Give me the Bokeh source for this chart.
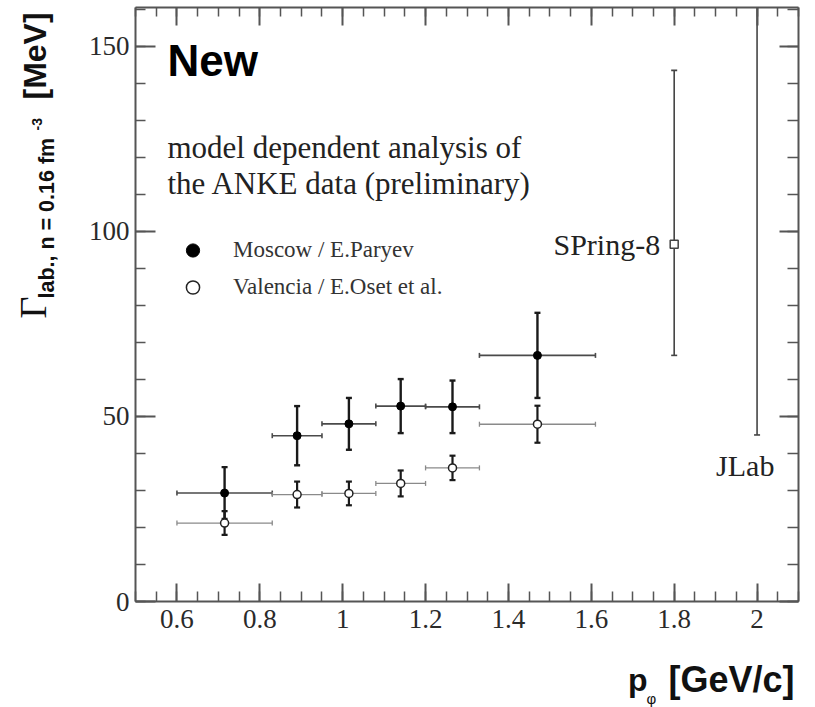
import numpy as np
from bokeh.plotting import figure
from bokeh.layouts import row, column
from bokeh.models import (ColumnDataSource, Whisker, TeeHead, LinearAxis, FixedTicker,
                          Label, Legend, LegendItem, Range1d)
from bokeh.core.properties import value
from bokeh.embed import file_html
from bokeh.resources import INLINE

# ---------------- data ----------------
p_center = [0.715, 0.89, 1.015, 1.14, 1.265, 1.47]
p_bin_lo = [0.60, 0.83, 0.95, 1.08, 1.20, 1.33]
p_bin_hi = [0.83, 0.95, 1.08, 1.20, 1.33, 1.61]

moscow_gamma = [29.3, 44.8, 48.0, 52.8, 52.6, 66.5]
moscow_err = [7.0, 8.0, 7.0, 7.3, 7.1, 11.5]

valencia_gamma = [21.2, 28.9, 29.2, 31.9, 36.1, 47.9]
valencia_err = [3.2, 3.5, 3.2, 3.5, 3.3, 5.0]

spring8_p = [1.8]
spring8_gamma = [96.5]
spring8_lo = [66.5]
spring8_hi = [143.5]

jlab_p = [2.0]
jlab_lo = [45.0]
jlab_hi = [250.0]

x_tick_vals = [0.6, 0.8, 1.0, 1.2, 1.4, 1.6, 1.8, 2.0]
x_tick_labels = ["0.6", "0.8", "1", "1.2", "1.4", "1.6", "1.8", "2"]
y_tick_vals = [0, 50, 100, 150]
y_tick_labels = ["0", "50", "100", "150"]
x_minor = [round(0.5 + 0.05 * i, 2) for i in range(33)]
y_minor = list(range(0, 161, 10))

# ---------------- sources ----------------
moscow = ColumnDataSource(dict(
    p=p_center, g=moscow_gamma,
    g_lo=[g - e for g, e in zip(moscow_gamma, moscow_err)],
    g_hi=[g + e for g, e in zip(moscow_gamma, moscow_err)],
    p_lo=p_bin_lo, p_hi=p_bin_hi))
valencia = ColumnDataSource(dict(
    p=p_center, g=valencia_gamma,
    g_lo=[g - e for g, e in zip(valencia_gamma, valencia_err)],
    g_hi=[g + e for g, e in zip(valencia_gamma, valencia_err)],
    p_lo=p_bin_lo, p_hi=p_bin_hi))
spring = ColumnDataSource(dict(p=spring8_p, g=spring8_gamma, g_lo=spring8_lo, g_hi=spring8_hi))
jlab = ColumnDataSource(dict(p=jlab_p, g_lo=jlab_lo, g_hi=jlab_hi))

# ---------------- layout sizes (page pixels) ----------------
W, H = 815, 707
LEFT_W = 65          # strip holding the rotated y title
MAIN_H = 650         # main plot height; below it a strip for the x title
BELOW_H = H - MAIN_H

# ---------------- main figure ----------------
p = figure(width=W - LEFT_W, height=MAIN_H, x_range=Range1d(0.5, 2.1),
           y_range=Range1d(0, 160.5),
           output_backend="svg", toolbar_location=None,
           min_border_left=135 - LEFT_W, min_border_right=W - 798,
           min_border_top=7, min_border_bottom=MAIN_H - 601)
p.grid.visible = False
p.outline_line_color = None
p.background_fill_color = "white"
p.border_fill_color = "white"

AX_COL = "#555555"
TICK_FONT = "Liberation Serif"


def style_axis(ax, show_labels, maj_in, min_in):
    ax.axis_line_color = AX_COL
    ax.axis_line_width = 2
    ax.major_tick_line_color = AX_COL
    ax.minor_tick_line_color = AX_COL
    ax.major_tick_line_width = 2
    ax.minor_tick_line_width = 1.5
    ax.major_tick_in = maj_in
    ax.major_tick_out = 0
    ax.minor_tick_in = min_in
    ax.minor_tick_out = 0
    if show_labels:
        ax.major_label_text_font = TICK_FONT
        ax.major_label_text_font_size = "27px"
        ax.major_label_text_color = "#2a2a2a"
    else:
        ax.major_label_text_font_size = "1px"
        ax.major_label_text_color = None
        ax.major_label_standoff = 0


xb = p.xaxis[0]
xb.ticker = FixedTicker(ticks=x_tick_vals, minor_ticks=x_minor)
xb.major_label_overrides = dict(zip(x_tick_vals, x_tick_labels))
style_axis(xb, True, 18, 10)
xb.major_label_standoff = 8

yl = p.yaxis[0]
yl.ticker = FixedTicker(ticks=y_tick_vals, minor_ticks=y_minor)
yl.major_label_overrides = dict(zip(y_tick_vals, y_tick_labels))
style_axis(yl, True, 20, 10)
yl.major_label_standoff = 6

xt = LinearAxis(ticker=FixedTicker(ticks=x_tick_vals, minor_ticks=x_minor))
xt.major_label_overrides = {v: "" for v in x_tick_vals}
style_axis(xt, False, 18, 9)
p.add_layout(xt, "above")

yr = LinearAxis(ticker=FixedTicker(ticks=y_tick_vals, minor_ticks=y_minor))
yr.major_label_overrides = {v: "" for v in y_tick_vals}
style_axis(yr, False, 19, 11)
p.add_layout(yr, "right")

# ---------------- error bars ----------------
def whisk(src, base, lo, hi, dim, color, width, cap):
    w = Whisker(source=src, base=base, lower=lo, upper=hi, dimension=dim,
                line_color=color, line_width=width,
                upper_head=TeeHead(size=cap, line_color=color, line_width=width),
                lower_head=TeeHead(size=cap, line_color=color, line_width=width))
    p.add_layout(w)
    return w

whisk(moscow, "g", "p_lo", "p_hi", "width", "#4a4a4a", 1.6, 5)
whisk(moscow, "p", "g_lo", "g_hi", "height", "#1a1a1a", 2.4, 6)
whisk(valencia, "g", "p_lo", "p_hi", "width", "#8a8a8a", 1.3, 5)
whisk(valencia, "p", "g_lo", "g_hi", "height", "#1a1a1a", 2.2, 6)
whisk(spring, "p", "g_lo", "g_hi", "height", "#444444", 1.6, 6)
whisk(jlab, "p", "g_lo", "g_hi", "height", "#444444", 1.6, 6)

# ---------------- markers ----------------
r_m = p.scatter("p", "g", source=moscow, marker="circle", size=8,
                fill_color="black", line_color="black", line_width=1)
r_v = p.scatter("p", "g", source=valencia, marker="circle", size=8,
                fill_color="white", line_color="#222222", line_width=1.5)
p.scatter("p", "g", source=spring, marker="square", size=8,
          fill_color="white", line_color="#444444", line_width=1.5)

# ---------------- legend ----------------
legend = Legend(items=[LegendItem(label="Moscow / E.Paryev", renderers=[r_m]),
                       LegendItem(label="Valencia / E.Oset et al.", renderers=[r_v])],
                location=(41, 297), border_line_color=None, background_fill_alpha=0,
                glyph_width=33, glyph_height=34, label_standoff=24, padding=10, spacing=3,
                label_text_font="Liberation Serif", label_text_font_size="23px",
                label_text_color="#333333", margin=0)
p.add_layout(legend)

# ---------------- text annotations inside the frame ----------------
SERIF = "Liberation Serif"
SANS = "Liberation Sans"


def lab(text, x, y, font, size, style="normal", color="#111111"):
    p.add_layout(Label(x=x, y=y, x_units="screen", y_units="screen", text=text,
                       text_font=font, text_font_size=size, text_font_style=style,
                       text_color=color, text_align="left", text_baseline="alphabetic"))

lab("New", 32, 541, SANS, "44px", "bold", "#000000")
lab("model dependent analysis of", 32, 454, SERIF, "31px", color="#222222")
lab("the ANKE data (preliminary)", 32, 418, SERIF, "31px", color="#222222")

p.add_layout(Label(x=spring8_p[0], y=spring8_gamma[0], x_offset=-14, text="SPring-8",
                   text_font=SERIF, text_font_size="30px", text_color="#222222",
                   text_align="right", text_baseline="middle"))
p.add_layout(Label(x=jlab_p[0], y=jlab_lo[0], x_offset=-41, y_offset=-31, text="JLab",
                   text_font=SERIF, text_font_size="30px", text_color="#222222",
                   text_align="left", text_baseline="middle"))

# ---------------- y title strip (left) ----------------
left = figure(width=LEFT_W, height=H, x_range=Range1d(0, LEFT_W), y_range=Range1d(0, H),
              output_backend="svg", toolbar_location=None,
              x_axis_location=None, y_axis_location=None, min_border=0)
left.grid.visible = False
left.outline_line_color = None
left.border_fill_color = "white"

ang = np.pi / 2
ytitle_parts = ["\u0393", "lab., n = 0.16 fm", "-3", "[MeV]"]
ytitle_x = [32, 46, 36, 34]
ytitle_top = [318, 298, 130, 99]
ytitle_font = [SERIF, SANS, SANS, SANS]
ytitle_size = ["38px", "21.5px", "14px", "32px"]
ytitle_style = ["normal", "bold", "bold", "bold"]
for t, x, y, f, s, st in zip(ytitle_parts, ytitle_x, ytitle_top, ytitle_font, ytitle_size, ytitle_style):
    left.text(x=[x], y=[H - y], text=[t], angle=ang, text_font=value(f), text_font_size=s,
              text_font_style=st, text_color="#111111", text_align="left",
              text_baseline="alphabetic")

# ---------------- x title strip (below) ----------------
below = figure(width=W - LEFT_W, height=BELOW_H, x_range=Range1d(LEFT_W, W),
               y_range=Range1d(H, MAIN_H), output_backend="svg", toolbar_location=None,
               x_axis_location=None, y_axis_location=None, min_border=0)
below.grid.visible = False
below.outline_line_color = None
below.border_fill_color = "white"

xtitle_parts = ["p", "\u03c6", "[GeV/c]"]
xtitle_x = [622, 643, 668]
xtitle_base = [679, 698, 679]
xtitle_size = ["32px", "15px", "36px"]
xtitle_style = ["bold", "normal", "bold"]
for t, x, y, s, st in zip(xtitle_parts, xtitle_x, xtitle_base, xtitle_size, xtitle_style):
    below.text(x=[x], y=[y], text=[t], text_font=value(SANS), text_font_size=s,
               text_font_style=st, text_color="#111111", text_align="left",
               text_baseline="alphabetic")

layout = row(left, column(p, below))
open("out.html", "w").write(file_html(layout, INLINE))
